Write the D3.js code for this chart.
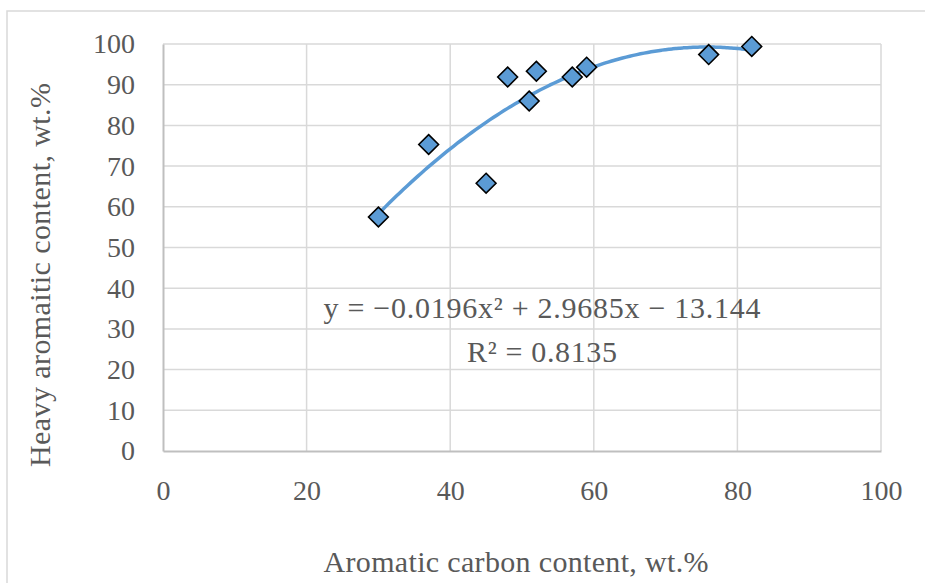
<!DOCTYPE html>
<html>
<head>
<script src="https://d3js.org/d3.v7.min.js"></script>
<style>
body{margin:0;background:#fff;}
text{font-family:"Liberation Serif",serif;fill:#595959;}
</style>
</head>
<body>
<svg width="925" height="583" id="mainsvg"></svg>
<script>
// data
const carbon = [30, 37, 45, 48, 51, 52, 57, 59, 76, 82];
const heavy = [57.5, 75.3, 65.8, 91.9, 86, 93.3, 91.9, 94.3, 97.4, 99.4];
const xTicks = [0, 20, 40, 60, 80, 100];
const yTicks = [0, 10, 20, 30, 40, 50, 60, 70, 80, 90, 100];
const fitCoef = [-0.0196, 2.9685, -13.144];
const fitRange = [30, 82];
const eqText = 'y = \u22120.0196x\u00b2 + 2.9685x \u2212 13.144';
const r2Text = 'R\u00b2 = 0.8135';

const svg = d3.select('svg');

// outer chart frame
svg.append('rect').attr('x', 7).attr('y', 11).attr('width', 940).attr('height', 600)
  .attr('fill', 'none').attr('stroke', '#d9d9d9').attr('stroke-width', 1.5);

const x = d3.scaleLinear().domain([0, 100]).range([163, 881]);
const y = d3.scaleLinear().domain([0, 100]).range([451, 44]);

const g = svg.append('g');

// gridlines
g.selectAll('.hgrid').data(yTicks.filter(d => d > 0)).enter().append('line')
  .attr('x1', x(0)).attr('x2', x(100)).attr('y1', d => y(d)).attr('y2', d => y(d))
  .attr('stroke', '#d9d9d9').attr('stroke-width', 1.5);
g.selectAll('.vgrid').data(xTicks.filter(d => d > 0)).enter().append('line')
  .attr('y1', y(0)).attr('y2', y(100)).attr('x1', d => x(d)).attr('x2', d => x(d))
  .attr('stroke', '#d9d9d9').attr('stroke-width', 1.5);

// axes
const yaxis = d3.axisLeft(y).tickValues(yTicks).tickSize(0).tickPadding(28);
const xaxis = d3.axisBottom(x).tickValues(xTicks).tickSize(0).tickPadding(29);
const ya = g.append('g').attr('transform', `translate(${x(0)},0)`).call(yaxis);
const xa = g.append('g').attr('transform', `translate(0,${y(0)})`).call(xaxis);
[ya, xa].forEach(a => {
  a.select('.domain').attr('stroke', '#bfbfbf').attr('stroke-width', 2);
  a.selectAll('text').style('font-size', '28px').attr('fill', '#595959')
    .style('font-family', '"Liberation Serif",serif');
});

// trendline
const fit = d3.range(fitRange[0], fitRange[1] + 0.01, 0.5)
  .map(v => [v, fitCoef[0] * v * v + fitCoef[1] * v + fitCoef[2]]);
g.append('path').datum(fit)
  .attr('d', d3.line().x(d => x(d[0])).y(d => y(d[1])).curve(d3.curveMonotoneX))
  .attr('fill', 'none').attr('stroke', '#5b9bd5').attr('stroke-width', 3.5);

// markers
const pts = carbon.map((c, i) => ({x: c, y: heavy[i]}));
g.selectAll('.pt').data(pts).enter().append('path')
  .attr('class', 'pt')
  .attr('d', d3.symbol().type(d3.symbolDiamond2).size(250))
  .attr('transform', d => `translate(${x(d.x)},${y(d.y)})`)
  .attr('fill', '#5b9bd5').attr('stroke', '#000').attr('stroke-width', 1.6);

// equation
svg.append('text').attr('x', 542).attr('y', 318).attr('text-anchor', 'middle')
  .attr('textLength', 437).style('font-size', '30px').text(eqText);
svg.append('text').attr('x', 542).attr('y', 362).attr('text-anchor', 'middle')
  .attr('textLength', 150).style('font-size', '30px').text(r2Text);

// axis titles
svg.append('text').attr('x', 516).attr('y', 572).attr('text-anchor', 'middle')
  .attr('textLength', 385).style('font-size', '30px').text('Aromatic carbon content, wt.%');
svg.append('text').attr('transform', 'translate(50,275) rotate(-90)').attr('text-anchor', 'middle')
  .attr('textLength', 384).style('font-size', '30px').text('Heavy aromaitic content, wt.%');
</script>
</body>
</html>
